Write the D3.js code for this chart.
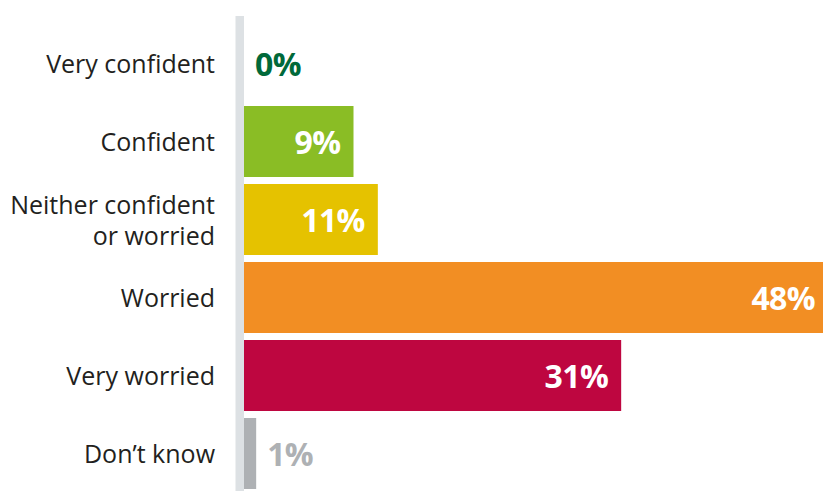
<!DOCTYPE html>
<html>
<head>
<meta charset="utf-8">
<script src="https://cdn.jsdelivr.net/npm/d3@7"></script>
<style>
  html, body { margin: 0; padding: 0; background: #ffffff; }
  svg { display: block; }
</style>
</head>
<body>
<div id="chart"></div>
<script>
// Survey responses: share of respondents per answer (percent)
const categories = [
  ["Very confident"],
  ["Confident"],
  ["Neither confident", "or worried"],
  ["Worried"],
  ["Very worried"],
  ["Don\u2019t know"]
];
const values = [0, 9, 11, 48, 31, 1];
const valueLabels = ["0%", "9%", "11%", "48%", "31%", "1%"];
const barColors = ["#00693a", "#8abd25", "#e5c200", "#f28e23", "#be0640", "#aeb1b4"];

const width = 823, height = 491;
const keys = categories.map(c => c.join(" "));

const svg = d3.select("#chart").append("svg")
  .attr("width", width)
  .attr("height", height);

const x = d3.scaleLinear().domain([0, 48]).range([244, 828]);
const y = d3.scaleBand().domain(keys).range([28, 489]).paddingInner(7 / 78).paddingOuter(0);

// vertical baseline
svg.append("rect")
  .attr("x", 235.5)
  .attr("y", 16)
  .attr("width", 8.5)
  .attr("height", height - 16)
  .attr("fill", "#dde1e4");

// bars
svg.selectAll("rect.bar")
  .data(values)
  .join("rect")
  .attr("class", "bar")
  .attr("x", x(0))
  .attr("y", (d, i) => y(keys[i]))
  .attr("width", d => x(d) - x(0))
  .attr("height", y.bandwidth())
  .attr("fill", (d, i) => barColors[i]);

// category labels
const font = "'Open Sans', 'Noto Sans', sans-serif";
const catText = svg.selectAll("text.cat")
  .data(categories)
  .join("text")
  .attr("class", "cat")
  .attr("text-anchor", "end")
  .attr("font-family", font)
  .attr("font-size", 25)
  .attr("fill", "#231f20");

catText.each(function (lines, i) {
  const cy = y(keys[i]) + y.bandwidth() / 2;
  const lh = 31;
  const start = cy + 9.5 - (lines.length - 1) * lh / 2;
  d3.select(this).selectAll("tspan")
    .data(lines)
    .join("tspan")
    .attr("x", 215)
    .attr("y", (d, j) => start + j * lh)
    .text(d => d);
});

// value labels: inside wide bars, outside short ones
const inside = d => d >= 5;
svg.selectAll("text.val")
  .data(values)
  .join("text")
  .attr("class", "val")
  .attr("font-family", font)
  .attr("font-weight", 700)
  .attr("font-size", 32)
  .attr("letter-spacing", -0.6)
  .attr("text-anchor", d => inside(d) ? "end" : "start")
  .attr("x", d => inside(d) ? x(d) - 13 : x(d) + 11)
  .attr("y", (d, i) => y(keys[i]) + y.bandwidth() / 2 + 12)
  .attr("fill", (d, i) => inside(d) ? "#ffffff" : barColors[i])
  .text((d, i) => valueLabels[i]);
</script>
</body>
</html>
